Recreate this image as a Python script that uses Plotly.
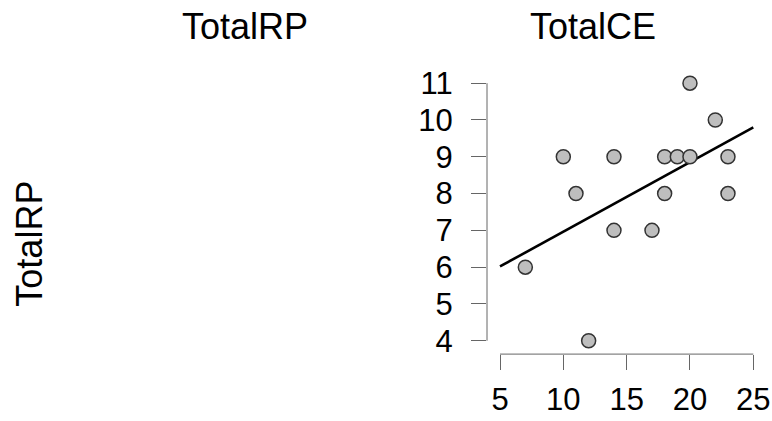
import numpy as np
import plotly.graph_objects as go

# Data
total_ce = [7, 10, 11, 12, 14, 14, 17, 18, 18, 19, 20, 20, 22, 23, 23]
total_rp = [6, 9, 8, 4, 9, 7, 7, 9, 8, 9, 9, 11, 10, 9, 8]
x_ticks = [5, 10, 15, 20, 25]
y_ticks = [4, 5, 6, 7, 8, 9, 10, 11]
var_names = ["TotalRP", "TotalCE"]

W, H = 772, 421
FONT = "Liberation Sans, Arial, Helvetica, sans-serif"

slope, intercept = np.polyfit(total_ce, total_rp, 1)
fit_x = np.array([x_ticks[0], x_ticks[-1]], dtype=float)
fit_y = intercept + slope * fit_x

fig = go.Figure()
fig.add_trace(go.Scatter(
    x=fit_x, y=fit_y, mode="lines",
    line=dict(color="black", width=2.6), hoverinfo="skip", showlegend=False))
fig.add_trace(go.Scatter(
    x=total_ce, y=total_rp, mode="markers",
    marker=dict(size=14, color="#bebebe", line=dict(color="#333333", width=1.5)),
    showlegend=False))

# pixel geometry
x_left_px, x_right_px = 487, 772
y_bot_px, y_top_px = 357.5, 60
x_ppu = (753.3 - 500) / (x_ticks[-1] - x_ticks[0])
y_ppu = (344 - 84) / (y_ticks[-1] - y_ticks[0])
x0 = x_ticks[0] - (500 - x_left_px) / x_ppu
x1 = x0 + (x_right_px - x_left_px) / x_ppu
y0 = y_ticks[0] - (y_bot_px - 344) / y_ppu
y1 = y0 + (y_bot_px - y_top_px) / y_ppu

axis_common = dict(showgrid=False, zeroline=False, showline=False,
                   ticks="outside", ticklen=15, tickwidth=1, tickcolor="#666666",
                   tickfont=dict(family=FONT, size=31, color="black"))

fig.update_layout(
    width=W, height=H, autosize=False,
    margin=dict(l=0, r=0, t=0, b=0, pad=0),
    paper_bgcolor="white", plot_bgcolor="white",
    showlegend=False,
    xaxis=dict(domain=[x_left_px / W, x_right_px / W], range=[x0, x1],
               tickvals=x_ticks, ticktext=[str(v) for v in x_ticks],
               ticklabelstandoff=3, **axis_common),
    yaxis=dict(domain=[1 - y_bot_px / H, 1 - y_top_px / H], range=[y0, y1],
               tickvals=y_ticks, ticktext=[str(v) for v in y_ticks],
               ticklabelstandoff=12, **axis_common),
)

# R-style axis lines spanning only the tick range
fig.add_shape(type="line", xref="x", yref="y domain",
              x0=x_ticks[0], x1=x_ticks[-1], y0=0, y1=0,
              line=dict(color="#666666", width=1))
fig.add_shape(type="line", xref="x domain", yref="y",
              x0=0, x1=0, y0=y_ticks[0], y1=y_ticks[-1],
              line=dict(color="#666666", width=1))

# column titles and row label
fig.add_annotation(text=var_names[0], xref="paper", yref="paper",
                   x=244.7 / W, y=1 - 27 / H, xanchor="center", yanchor="middle",
                   showarrow=False, font=dict(family=FONT, size=36, color="black"))
fig.add_annotation(text=var_names[1], xref="paper", yref="paper",
                   x=592.5 / W, y=1 - 27 / H, xanchor="center", yanchor="middle",
                   showarrow=False, font=dict(family=FONT, size=36, color="black"))
fig.add_annotation(text=var_names[0], xref="paper", yref="paper",
                   x=30 / W, y=1 - 246 / H, xanchor="center", yanchor="middle",
                   textangle=-90,
                   showarrow=False, font=dict(family=FONT, size=36, color="black"))

fig.write_html("out.html", config={"displayModeBar": False},
               post_script="document.body.style.margin='0';document.body.style.overflow='hidden';")
